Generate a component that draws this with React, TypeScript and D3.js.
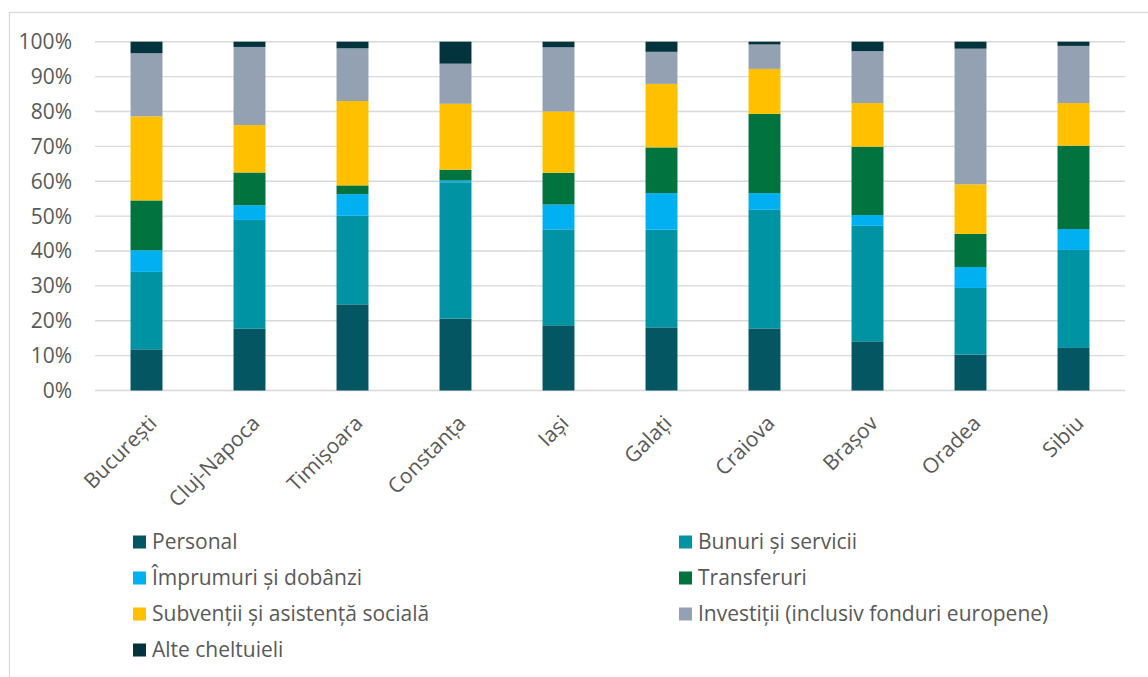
import React from "react";
import * as d3 from "d3";

const cities = ["București", "Cluj-Napoca", "Timișoara", "Constanța", "Iași", "Galați", "Craiova", "Brașov", "Oradea", "Sibiu"];
const seriesNames = [
  "Personal",
  "Bunuri și servicii",
  "Împrumuri și dobânzi",
  "Transferuri",
  "Subvenții și asistență socială",
  "Investiții (inclusiv fonduri europene)",
  "Alte cheltuieli",
];
const personal = [11.8, 17.7, 24.7, 20.6, 18.7, 18.1, 17.8, 14.1, 10.3, 12.2];
const bunuri = [22.2, 31.2, 25.4, 39.1, 27.5, 28.0, 34.0, 33.1, 19.1, 28.1];
const imprumuri = [6.2, 4.2, 6.2, 0.5, 7.1, 10.5, 4.8, 3.1, 6.0, 6.0];
const transferuri = [14.3, 9.4, 2.5, 3.1, 9.1, 13.1, 22.7, 19.6, 9.5, 23.9];
const subventii = [24.1, 13.6, 24.2, 18.9, 17.6, 18.2, 12.9, 12.5, 14.2, 12.2];
const investitii = [18.1, 22.4, 15.1, 11.5, 18.4, 9.2, 7.0, 14.9, 38.9, 16.4];
const alte = [3.3, 1.5, 1.9, 6.3, 1.6, 2.9, 0.8, 2.7, 2.0, 1.2];
const yTicks = [0, 0.1, 0.2, 0.3, 0.4, 0.5, 0.6, 0.7, 0.8, 0.9, 1.0];
const colors = ["#045663", "#0093A4", "#00B0F0", "#00733E", "#FFC000", "#93A1B3", "#03333D"];

const W = 1148;
const H = 677;
const FONT = "'Open Sans', sans-serif";
const TEXT = "#595959";
const FS = 21;

export default function App() {
  const allSeries = [personal, bunuri, imprumuri, transferuri, subventii, investitii, alte];
  const rows = cities.map((c, i) => {
    const r: any = { city: c };
    seriesNames.forEach((s, k) => (r[s] = allSeries[k][i]));
    return r;
  });
  const stacked = d3.stack<any>().keys(seriesNames).offset(d3.stackOffsetExpand)(rows);

  const x = d3.scaleBand<string>().domain(cities).range([95, 1125]).paddingInner(0.69).paddingOuter(0.345);
  const y = d3.scaleLinear().domain([0, 1]).range([390.5, 41.7]);
  const pct = d3.format(".0%");

  const legendPos = seriesNames.map((s, i) => ({
    name: s,
    color: colors[i],
    x: i % 2 === 0 ? 133 : 679,
    y: 542 + Math.floor(i / 2) * 36,
  }));

  return (
    <svg width={W} height={H} style={{ position: "absolute", left: 0, top: 0, background: "#fff" }} fontFamily={FONT}>
      <rect x={9.5} y={12.5} width={W + 20} height={H + 20} fill="#fff" stroke="#d9d9d9" strokeWidth={1.3} />
      {yTicks.map((t) => (
        <g key={t}>
          <line x1={95} x2={1125} y1={y(t)} y2={y(t)} stroke="#d9d9d9" strokeWidth={1.4} />
          <text x={72} y={y(t) + 7.5} textAnchor="end" fontSize={FS} fill={TEXT}>
            {pct(t)}
          </text>
        </g>
      ))}
      {stacked.map((layer, k) => (
        <g key={layer.key} fill={colors[k]}>
          {layer.map((d: any, i: number) => (
            <rect
              key={i}
              x={x(d.data.city)}
              width={x.bandwidth()}
              y={y(d[1])}
              height={Math.max(0, y(d[0]) - y(d[1]))}
            />
          ))}
        </g>
      ))}
      {cities.map((c) => (
        <text
          key={c}
          transform={`translate(${(x(c) as number) + x.bandwidth() / 2 + 11.6},424.6) rotate(-45)`}
          textAnchor="end"
          fontSize={FS}
          fill={TEXT}
        >
          {c}
        </text>
      ))}
      {legendPos.map((l) => (
        <g key={l.name}>
          <rect x={l.x} y={l.y - 6.5} width={13} height={13} fill={l.color} />
          <text x={l.x + 19} y={l.y + 7.3} fontSize={FS} fill={TEXT}>
            {l.name}
          </text>
        </g>
      ))}
    </svg>
  );
}
